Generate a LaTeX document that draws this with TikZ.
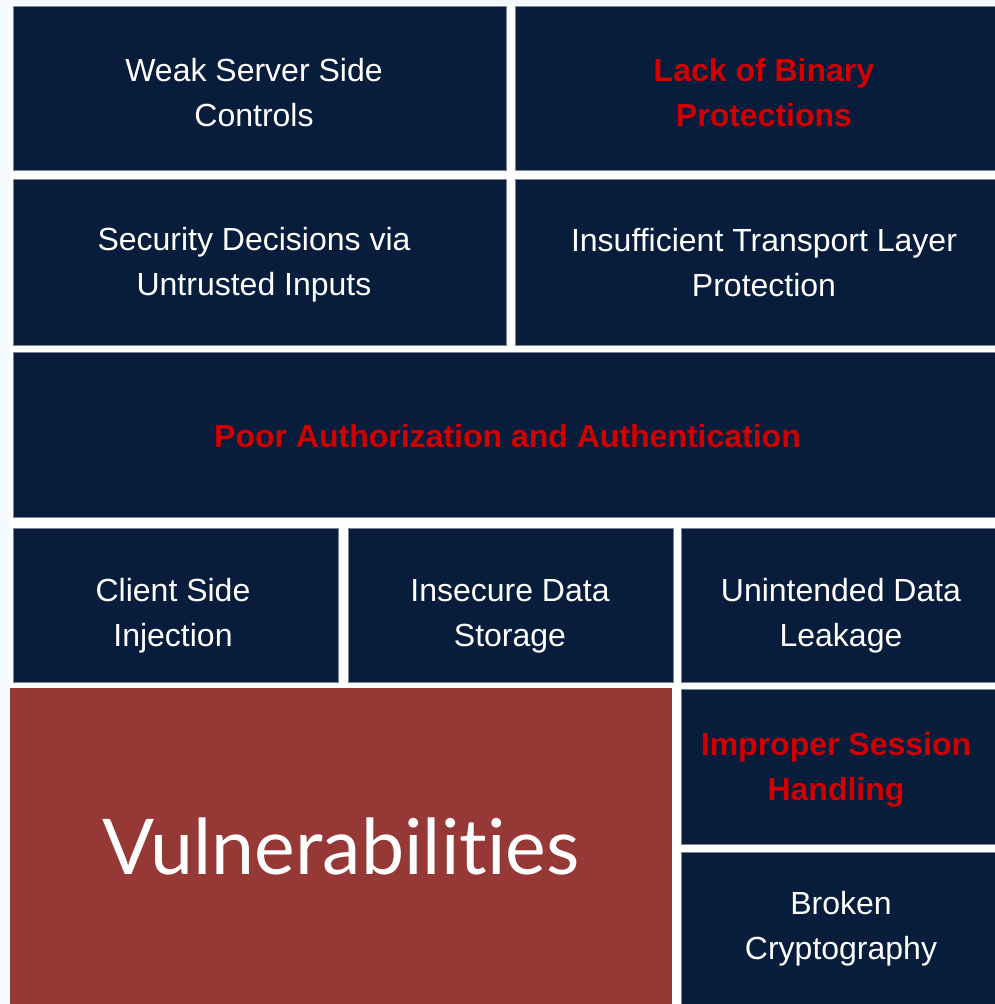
\documentclass[tikz,border=0pt]{standalone}
\usepackage{fontspec}
\setmainfont{Liberation Sans}
\newfontfamily\vulnfont[Ligatures={NoCommon}]{Lato}
\definecolor{navy}{HTML}{081D3B}
\definecolor{brick}{HTML}{963836}
\definecolor{alertred}{HTML}{D00000}
\definecolor{pagebg}{HTML}{F5FAFF}
\definecolor{edgegray}{HTML}{7A8696}
\begin{document}
\begin{tikzpicture}[x=1pt,y=1pt,
  navybox/.style={fill=navy, draw=edgegray, line width=0.8pt, inner sep=0pt, outer sep=0pt},
  brickbox/.style={fill=brick, inner sep=0pt, outer sep=0pt},
  wtxt/.style={text=white, align=center, font=\fontsize{32}{45}\selectfont, inner sep=0pt},
  rtxt/.style={text=alertred, align=center, font=\fontsize{32}{45}\selectfont\bfseries, inner sep=0pt}]
\useasboundingbox (0,0) rectangle (995,-1004);
\fill[pagebg] (0,0) rectangle (995,-1004);
\fill[white] (10,-5) rectangle (1010,-1010);
% row 1
\node[navybox, minimum width=493pt, minimum height=164pt] (wssc) at (259.5,-88) {};
\node[wtxt] (wssct) at (254,-93) {Weak Server Side\\Controls};
\node[navybox, minimum width=498pt, minimum height=164pt] (lbp) at (764,-88) {};
\node[rtxt] (lbpt) at (764,-93) {Lack of Binary\\Protections};
% row 2
\node[navybox, minimum width=493pt, minimum height=166pt] (sdui) at (259.5,-262) {};
\node[wtxt] (sduit) at (254,-265) {Security Decisions via\\Untrusted Inputs};
\node[navybox, minimum width=498pt, minimum height=166pt] (itlp) at (764,-262) {};
\node[wtxt] (itlpt) at (764,-263) {Insufficient Transport Layer\\Protection};
% row 3
\node[navybox, minimum width=989pt, minimum height=165pt] (paa) at (507.5,-434.5) {};
\node[rtxt] (paat) at (507.5,-436) {Poor Authorization and Authentication};
% row 4
\node[navybox, minimum width=325pt, minimum height=154pt] (csi) at (175.5,-605) {};
\node[wtxt] (csit) at (173,-616) {Client Side\\Injection};
\node[navybox, minimum width=325pt, minimum height=154pt] (ids) at (510.5,-605) {};
\node[wtxt] (idst) at (510,-616) {Insecure Data\\Storage};
\node[navybox, minimum width=320pt, minimum height=154pt] (udl) at (841,-605) {};
\node[wtxt] (udlt) at (841,-616) {Unintended Data\\Leakage};
% bottom block
\node[brickbox, minimum width=662pt, minimum height=320pt] (vuln) at (341,-848) {};
\node[text=white, inner sep=0pt, font=\vulnfont\fontsize{77}{80}\selectfont] (vulnt) at (341,-846) {Vulnerabilities};
\node[navybox, minimum width=320pt, minimum height=155pt] (ish) at (841,-766.5) {};
\node[rtxt] (isht) at (836,-770) {Improper Session\\Handling};
\node[navybox, minimum width=320pt, minimum height=158pt] (bc) at (841,-931) {};
\node[wtxt] (bct) at (841,-929) {Broken\\Cryptography};
\end{tikzpicture}
\end{document}
